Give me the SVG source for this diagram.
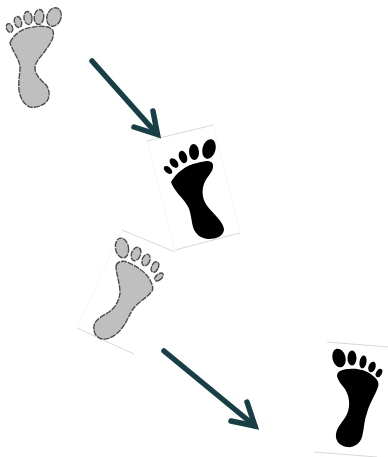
<svg xmlns="http://www.w3.org/2000/svg" width="388" height="457" viewBox="0 0 388 457">
<defs>
<filter id="soft" x="-10%" y="-10%" width="120%" height="120%"><feGaussianBlur stdDeviation="0.45"/></filter>
</defs>
<style>
.gray{fill:#bfbfbf;stroke:#4d4d4d;stroke-width:1.4;stroke-dasharray:6 1}
.black{fill:#000}
.frame{fill:none;stroke:#bdbdbd;stroke-width:.6}
.faint{fill:none;stroke:#ececec;stroke-width:.5}
.arrow{fill:none;stroke:#173f45;stroke-width:5.5;stroke-linecap:round;stroke-linejoin:miter}
</style>
<rect width="388" height="457" fill="#fff"/>
<g id="foot-1" filter="url(#soft)">
<path class="gray" d="M10 43C13 35 22 28 33 27C42 25.5 51 26 53 31C55 37 50 44 45 51C40 58 35 62 35 68C35 75 41 80 46 85C50 90 50 97 47 101C43 106 36 108 30 107C24 105 20 98 19 90C18 82 20 74 20 68C20 60 13 52 10 43Z"/>
<ellipse class="gray" cx="54" cy="17" rx="7" ry="9.5" transform="rotate(20 54 17)"/>
<ellipse class="gray" cx="39" cy="17" rx="4.8" ry="7.5" transform="rotate(5 39 17)"/>
<ellipse class="gray" cx="28" cy="18" rx="4" ry="6.5" transform="rotate(-8 28 18)"/>
<ellipse class="gray" cx="18" cy="22" rx="3.5" ry="5.5" transform="rotate(-15 18 22)"/>
<ellipse class="gray" cx="9.5" cy="28" rx="3" ry="4.5" transform="rotate(-20 9.5 28)"/>
</g>
<g id="foot-2">
<path class="frame" d="M147 141L213 125"/>
<path class="faint" d="M213 125L240 233M147 141L175 250"/>
<path class="frame" d="M175 250L240 233"/>
<g filter="url(#soft)">
<path class="black" d="M171 182C176 173 186 165 197 163C204 161 212 159 213 165C214 172 206 177 204 184C201 192 203 201 208 207C214 214 223 222 224 229C224 236 216 239 209 239C201 239 195 234 193 227C191 219 191 211 187 205C182 197 174 191 171 182Z"/>
<ellipse class="black" cx="209" cy="149" rx="6.5" ry="10" transform="rotate(15 209 149)"/>
<ellipse class="black" cx="194" cy="152" rx="5" ry="8" transform="rotate(-5 194 152)"/>
<ellipse class="black" cx="183" cy="157" rx="4" ry="6.5" transform="rotate(-20 183 157)"/>
<ellipse class="black" cx="174" cy="163" rx="3.5" ry="5.5" transform="rotate(-40 174 163)"/>
<ellipse class="black" cx="168" cy="170" rx="3" ry="5" transform="rotate(-50 168 170)"/>
</g>
</g>
<g id="foot-3">
<path class="frame" d="M122 230L175 252M77 328L134 354"/>
<path class="faint" d="M122 230L77 328"/>
<g filter="url(#soft)">
<path class="gray" d="M116 266C117 262 122 260 127 262C136 266 146 272 150 280C152 284 154 288 152 291C147 298 138 302 133 309C129 315 127 322 122 328C117 335 109 340 102 339C96 338 93 332 94 326C95 319 103 316 109 312C115 308 119 301 120 293C120 283 116 274 116 266Z"/>
<ellipse class="gray" cx="122" cy="248" rx="6.5" ry="10" transform="rotate(-10 122 248)"/>
<ellipse class="gray" cx="136" cy="254" rx="4.5" ry="7" transform="rotate(20 136 254)"/>
<ellipse class="gray" cx="146" cy="260" rx="3.8" ry="6" transform="rotate(20 146 260)"/>
<ellipse class="gray" cx="155" cy="267" rx="3.3" ry="5.5" transform="rotate(25 155 267)"/>
<ellipse class="gray" cx="159" cy="277" rx="2.8" ry="5" transform="rotate(50 159 277)"/>
</g>
</g>
<g id="foot-4">
<path class="frame" d="M327 342L388 347M314 452L377 457"/>
<g filter="url(#soft)">
<path class="black" d="M337 376C337 371 343 369 349 369C357 368 366 370 372 375C376 378 380 382 378 387C375 396 369 404 367 413C364 421 364 430 362 437C360 444 353 448 347 447C340 446 335 441 336 434C337 426 344 421 347 414C351 405 349 396 345 389C342 385 338 381 337 376Z"/>
<ellipse class="black" cx="339" cy="358" rx="6.5" ry="9.5" transform="rotate(-15 339 358)"/>
<ellipse class="black" cx="352" cy="358" rx="4.5" ry="7.5"/>
<ellipse class="black" cx="363" cy="362" rx="3.5" ry="6.5" transform="rotate(10 363 362)"/>
<ellipse class="black" cx="372" cy="367" rx="3.5" ry="5.5" transform="rotate(20 372 367)"/>
<ellipse class="black" cx="379" cy="373" rx="2.8" ry="4.5" transform="rotate(30 379 373)"/>
</g>
</g>
<g id="connectors">
<path class="arrow" d="M92 61L157 134"/>
<path class="arrow" d="M153 111L157.500 134.500L134 127"/>
<path class="arrow" d="M164 351L255 426"/>
<path class="arrow" d="M247 402L255 426L231 421"/>
</g>
</svg>
